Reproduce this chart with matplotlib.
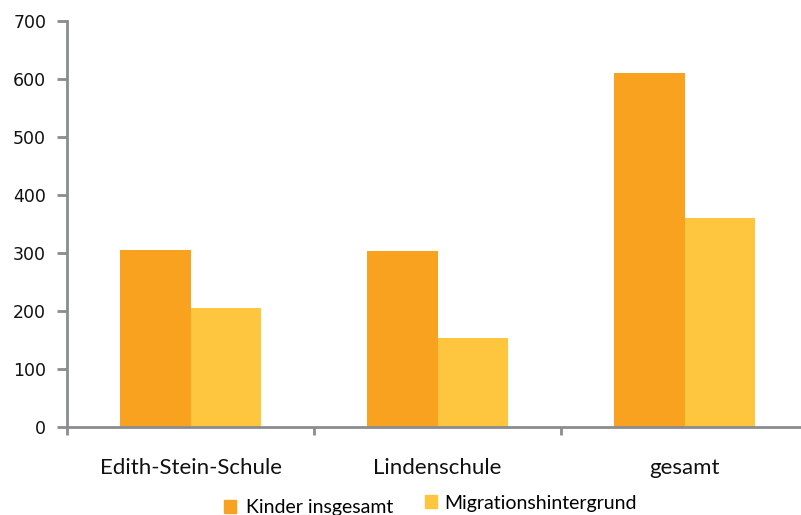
import matplotlib
matplotlib.use("Agg")
import matplotlib.pyplot as plt
import numpy as np
from matplotlib.patches import Patch

categories = ["Edith-Stein-Schule", "Lindenschule", "gesamt"]
kinder = [306, 304, 610]
migration = [205, 154, 360]
series_names = ["Kinder insgesamt", "Migrationshintergrund"]
yticks = [0, 100, 200, 300, 400, 500, 600, 700]

ORANGE = "#F8A21F"
YELLOW = "#FEC53E"
AXIS = "#8B8C8F"

W, H = 801, 515
fig = plt.figure(figsize=(W / 100, H / 100), dpi=100)
ax = fig.add_axes([67 / W, (H - 427) / H, 741 / W, 406 / H])

x = np.arange(len(categories))
bw = 0.285
ax.bar(x - bw / 2, kinder, width=bw, color=ORANGE, zorder=2)
ax.bar(x + bw / 2, migration, width=bw, color=YELLOW, zorder=2)

ax.set_xlim(-0.5, 2.5)
ax.set_ylim(0, 700)
ax.set_yticks(yticks)
ax.set_yticklabels([str(v) for v in yticks], fontsize=12.5, family="DejaVu Sans", color="#111111")

# category ticks sit on the boundaries between groups
ax.set_xticks(np.arange(-0.5, 2.51, 1.0))
ax.set_xticklabels([])
ax.set_xticks(x, minor=True)
ax.set_xticklabels(categories, minor=True, fontsize=16, family="Lato", color="#111111")
ax.tick_params(axis="x", which="minor", length=0, pad=22)
ax.tick_params(axis="x", which="major", length=6, width=2, color=AXIS, direction="out")
ax.tick_params(axis="y", length=7, width=2, color=AXIS, direction="out", pad=8)

for side in ["top", "right"]:
    ax.spines[side].set_visible(False)
for side in ["left", "bottom"]:
    ax.spines[side].set_color(AXIS)
    ax.spines[side].set_linewidth(2)
ax.spines["bottom"].set_zorder(3)

legend_kw = dict(frameon=False, prop={"family": "Lato", "size": 14},
                 handlelength=0.62, handleheight=0.62,
                 borderpad=0, borderaxespad=0, loc="center left")
fig.legend(handles=[Patch(color=ORANGE, label=series_names[0])],
           bbox_to_anchor=(224 / W, 1 - 508 / H), handletextpad=0.5, **legend_kw)
fig.legend(handles=[Patch(color=YELLOW, label=series_names[1])],
           bbox_to_anchor=(425 / W, 1 - 503 / H), handletextpad=0.35, **legend_kw)

fig.savefig("out.png", dpi=100)
